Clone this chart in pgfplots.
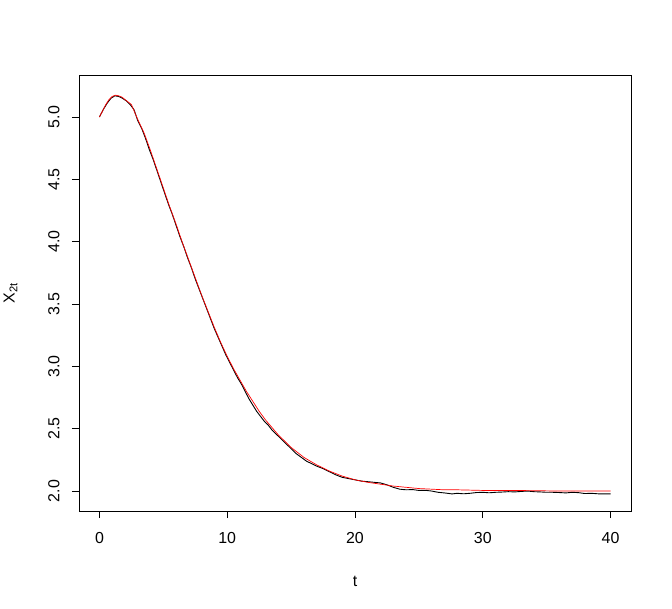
\documentclass[border=0pt]{standalone}
\usepackage{pgfplots}
\pgfplotsset{compat=1.18}
\usepackage{fontspec}
\setmainfont{Liberation Sans}

% smooth solution (red) and one simulated path (black)
\pgfplotstableread{
t y
0 5.00
0.25 5.05
0.5 5.10
0.75 5.14
1.0 5.165
1.25 5.175
1.5 5.17
1.75 5.16
2.0 5.14
2.5 5.10
3.0 4.98
3.5 4.87
4.0 4.73
4.5 4.58
5.0 4.43
5.5 4.28
6.0 4.14
6.5 3.99
7.0 3.85
7.5 3.71
8.0 3.57
8.5 3.44
9.0 3.31
9.5 3.19
10.0 3.08
10.5 2.98
11.0 2.89
11.5 2.80
12.0 2.72
12.5 2.64
13.0 2.57
13.5 2.51
14.0 2.45
14.5 2.40
15.0 2.35
16.0 2.27
17.0 2.21
18.0 2.16
19.0 2.12
20.0 2.09
21.0 2.07
22.0 2.055
23.0 2.04
24.0 2.03
25.0 2.02
26.0 2.015
27.0 2.01
28.0 2.01
30.0 2.005
32.0 2.005
34.0 2.003
36.0 2.0
38.0 2.0
40.0 2.0
}\redtab

\pgfplotstableread{
t y
0 5.00
0.3 5.06
0.6 5.11
0.9 5.15
1.2 5.17
1.5 5.165
1.8 5.15
2.1 5.13
2.4 5.10
2.7 5.06
3.0 4.97
3.3 4.91
3.6 4.83
3.9 4.74
4.2 4.66
4.5 4.57
4.8 4.48
5.1 4.39
5.4 4.30
5.7 4.22
6.0 4.13
6.3 4.04
6.6 3.96
6.9 3.87
7.2 3.79
7.5 3.70
7.8 3.62
8.1 3.54
8.4 3.46
8.7 3.38
9.0 3.30
9.3 3.23
9.6 3.16
9.9 3.09
10.2 3.03
10.5 2.97
10.8 2.91
11.1 2.86
11.4 2.80
11.7 2.74
12.0 2.69
12.3 2.64
12.6 2.60
12.9 2.56
13.2 2.53
13.5 2.49
13.8 2.46
14.1 2.43
14.4 2.40
14.7 2.37
15.0 2.34
15.4 2.30
15.8 2.27
16.2 2.24
16.6 2.22
17.0 2.20
17.5 2.18
18.0 2.155
18.5 2.13
19.0 2.11
19.5 2.10
20.0 2.09
20.5 2.08
21.0 2.075
21.5 2.07
22.0 2.065
22.5 2.05
23.0 2.03
23.5 2.015
24.0 2.01
24.5 2.012
25.0 2.005
25.5 2.006
26.0 2.0
26.5 1.99
27.0 1.985
27.6 1.977
28.0 1.982
28.5 1.978
29.0 1.982
29.5 1.988
30.0 1.99
30.5 1.986
31.0 1.99
31.5 1.992
32.0 1.995
32.5 1.993
33.0 1.997
33.5 2.0
34.0 1.995
34.5 1.993
35.0 1.99
35.5 1.99
36.0 1.988
36.5 1.985
37.0 1.99
37.5 1.987
38.0 1.98
38.5 1.982
39.0 1.978
39.5 1.977
40.0 1.977
}\blacktab

\begin{document}
\begin{tikzpicture}
\begin{axis}[
  scale only axis,
  width=552bp, height=436bp,
  xmin=-1.6, xmax=41.6,
  ymin=1.84, ymax=5.337,
  xtick={0,10,...,40},
  ytick={2.0,2.5,...,5.0},
  yticklabel style={rotate=90, anchor=south, font=\fontsize{16}{18}\selectfont,
    /pgf/number format/fixed, /pgf/number format/fixed zerofill, /pgf/number format/precision=1},
  xticklabel style={font=\fontsize{16}{18}\selectfont},
  xticklabel shift=11bp,
  yticklabel shift=9bp,
  /pgf/number format/assume math mode=true,
  tick align=outside,
  major tick length=7bp,
  tick style={black, line width=0.6pt},
  xtick pos=bottom, ytick pos=left,
  axis line style={line width=0.6pt},
  xlabel={t}, ylabel={X\textsubscript{2t}},
  label style={font=\fontsize{16}{18}\selectfont},
  xlabel style={yshift=-26bp},
  ylabel style={yshift=24bp},
  clip=true,
]
\addplot[black, line width=0.9pt] table[x=t, y=y] {\blacktab};
\addplot[red, line width=0.7pt] table[x=t, y=y] {\redtab};
\end{axis}
\path[use as bounding box] ([xshift=-79bp, yshift=-98bp]current axis.south west)
  rectangle ([xshift=41bp, yshift=75bp]current axis.north east);
\end{tikzpicture}
\end{document}
